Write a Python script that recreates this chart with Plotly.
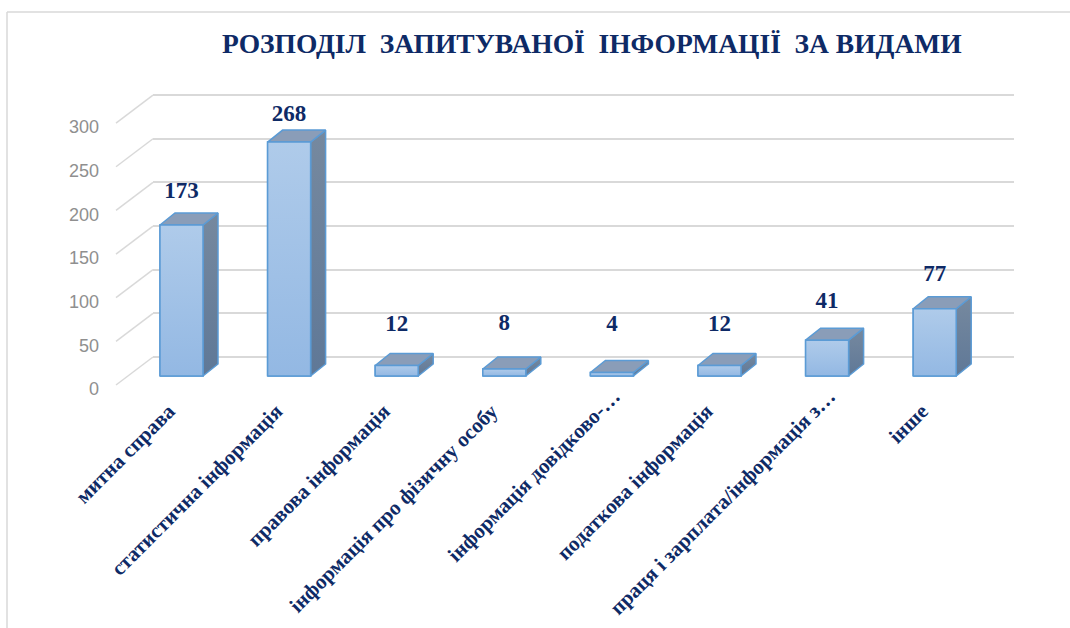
import plotly.graph_objects as go

categories = ["митна справа", "статистична інформація", "правова інформація",
              "інформація про фізичну особу", "інформація довідково-…",
              "податкова інформація", "праця і зарплата/інформація з…", "інше"]
values = [173, 268, 12, 8, 4, 12, 41, 77]
y_ticks = [0, 50, 100, 150, 200, 250, 300]
title_text = "РОЗПОДІЛ  ЗАПИТУВАНОЇ  ІНФОРМАЦІЇ  ЗА ВИДАМИ"

# label height above the bar's front top, in value units (label layout of the original)
label_gaps = [38, 31, 46, 51, 54, 46, 44, 38]

W, H = 1070, 628
NAVY = "#0E2A66"
EDGE = "#5B9BD5"
GRID = "#D9D9D9"

# geometry (pixels)
PX_X0, PX_STEP = 181.5, 107.6   # centre of first bar, category spacing
PX_Y0, PX_UNIT = 376.0, 0.873   # bar baseline, pixels per value unit
PL, PR, PT, PB = 100, 1040, 60, 392  # plot box
BACK_L, BACK_R = 153, 1014      # back wall extent
BAR_W = 43.0
DEPTH_X, DEPTH_Y = 15, 12

x_range = [(PL - PX_X0) / PX_STEP, (PR - PX_X0) / PX_STEP]
y_range = [(PX_Y0 - PB) / PX_UNIT, (PX_Y0 - PT) / PX_UNIT]
dom_x = [PL / W, PR / W]
dom_y = [1 - PB / H, 1 - PT / H]
dx_u = 1 / PX_STEP
dy_u = 1 / PX_UNIT

BACK_SHIFT = (PX_Y0 - 357) * dy_u
FRONT_SHIFT = (PX_Y0 - 385) * dy_u
LABEL_SHIFT = (PX_Y0 - 389) * dy_u

# the two truncated labels sit further along the slant in the original; the others
# get trailing padding so all can share one anchor rule
tick_text = [c if c.endswith("…") else c + "\u00a0" * 4 for c in categories]

fig = go.Figure()

# invisible carriers so the grid and tick-label axes are drawn
fig.add_trace(go.Scatter(x=[0], y=[0], xaxis="x", yaxis="y", mode="markers",
                         marker=dict(opacity=0), showlegend=False, hoverinfo="skip"))
fig.add_trace(go.Scatter(x=[0], y=[0], xaxis="x2", yaxis="y3", mode="markers",
                         marker=dict(opacity=0), showlegend=False, hoverinfo="skip"))

# side-wall diagonals
for t in y_ticks:
    fig.add_trace(go.Scatter(
        x=[(116 - PX_X0) * dx_u, (BACK_L - PX_X0) * dx_u],
        y=[t + FRONT_SHIFT, t + BACK_SHIFT],
        xaxis="x2", yaxis="y2",
        mode="lines", line=dict(color=GRID, width=1.5),
        showlegend=False, hoverinfo="skip"))

# solid bars
half = BAR_W / 2 * dx_u
fig.add_trace(go.Bar(x=list(range(len(values))), y=values, width=BAR_W * dx_u,
                     xaxis="x2", yaxis="y2",
                     marker=dict(color="#A3C2E8", line=dict(color=EDGE, width=1.5)),
                     showlegend=False, hoverinfo="skip"))


def poly(xs, ys, **kw):
    fig.add_trace(go.Scatter(x=xs, y=ys, xaxis="x2", yaxis="y2", mode="lines", fill="toself",
                             showlegend=False, hoverinfo="skip", **kw))


edge = dict(color=EDGE, width=1.5)
ox, oy = DEPTH_X * dx_u, DEPTH_Y * dy_u
for i, v in enumerate(values):
    l, r = i - half, i + half
    poly([r, r + ox, r + ox, r, r], [0, oy, v + oy, v, 0], line=edge,
         fillgradient=dict(type="vertical",
                           colorscale=[[0, "#5F7897"], [1, "#76899F"]]))
    poly([l, l + ox, r + ox, r, l], [v, v + oy, v + oy, v, v], line=edge,
         fillcolor="#8A9DB8")
    poly([l, r, r, l, l], [0, 0, v, v, 0], line=edge,
         fillgradient=dict(type="vertical",
                           colorscale=[[0, "#93B8E3"], [1, "#AFCBEA"]]))

# value labels
fig.add_trace(go.Scatter(
    x=list(range(len(values))), y=[v + g for v, g in zip(values, label_gaps)],
    xaxis="x2", yaxis="y2",
    mode="text", text=[str(v) for v in values], textposition="middle center",
    textfont=dict(family="Liberation Serif", size=23, color=NAVY, weight="bold"),
    showlegend=False, hoverinfo="skip"))

fig.update_layout(
    width=W, height=H, margin=dict(l=0, r=0, t=0, b=0),
    paper_bgcolor="white", plot_bgcolor="rgba(0,0,0,0)",
    showlegend=False, barmode="overlay",
    # back wall gridlines (base subplot, drawn beneath everything)
    xaxis=dict(domain=[BACK_L / W, BACK_R / W], anchor="y", visible=False, range=[0, 1]),
    yaxis=dict(domain=dom_y, anchor="x",
               range=[y_range[0] - BACK_SHIFT, y_range[1] - BACK_SHIFT],
               tickmode="array", tickvals=y_ticks, showgrid=True, gridcolor=GRID,
               gridwidth=1.5, zeroline=False, showticklabels=False, showline=False),
    # marks and category labels
    xaxis2=dict(domain=dom_x, range=x_range, anchor="y2", tickmode="array",
                tickvals=list(range(len(categories))), ticktext=tick_text,
                tickangle=-45, showgrid=False, zeroline=False, showline=False,
                ticks="", automargin=False, ticklabelshift=2, ticklabelstandoff=-13,
                tickfont=dict(family="Liberation Serif", size=21, color=NAVY, weight="bold")),
    yaxis2=dict(domain=dom_y, range=y_range, anchor="x2", overlaying="y", visible=False),
    # value-axis tick labels (front wall)
    yaxis3=dict(domain=dom_y, overlaying="y", anchor="x2", side="left",
                range=[y_range[0] - LABEL_SHIFT, y_range[1] - LABEL_SHIFT],
                tickmode="array", tickvals=y_ticks, showgrid=False, zeroline=False,
                showline=False, ticks="", automargin=False,
                tickfont=dict(family="Liberation Sans", size=18, color="#8F8F8F")),
    annotations=[dict(text=title_text, xref="paper", yref="paper", x=591.5 / W, y=1 - 44 / H,
                      xanchor="center", yanchor="middle", showarrow=False,
                      font=dict(family="Liberation Serif", size=27.5, color=NAVY, weight="bold"))],
    shapes=[
        dict(type="line", xref="paper", yref="paper", x0=7 / W, x1=1, y0=1 - 12 / H, y1=1 - 12 / H,
             line=dict(color=GRID, width=1.5)),
        dict(type="line", xref="paper", yref="paper", x0=7 / W, x1=7 / W, y0=1 - 12 / H, y1=0,
             line=dict(color=GRID, width=1.5))],
)
fig.write_html("out.html", post_script="document.body.style.margin='0';",
               config={"displayModeBar": False})
